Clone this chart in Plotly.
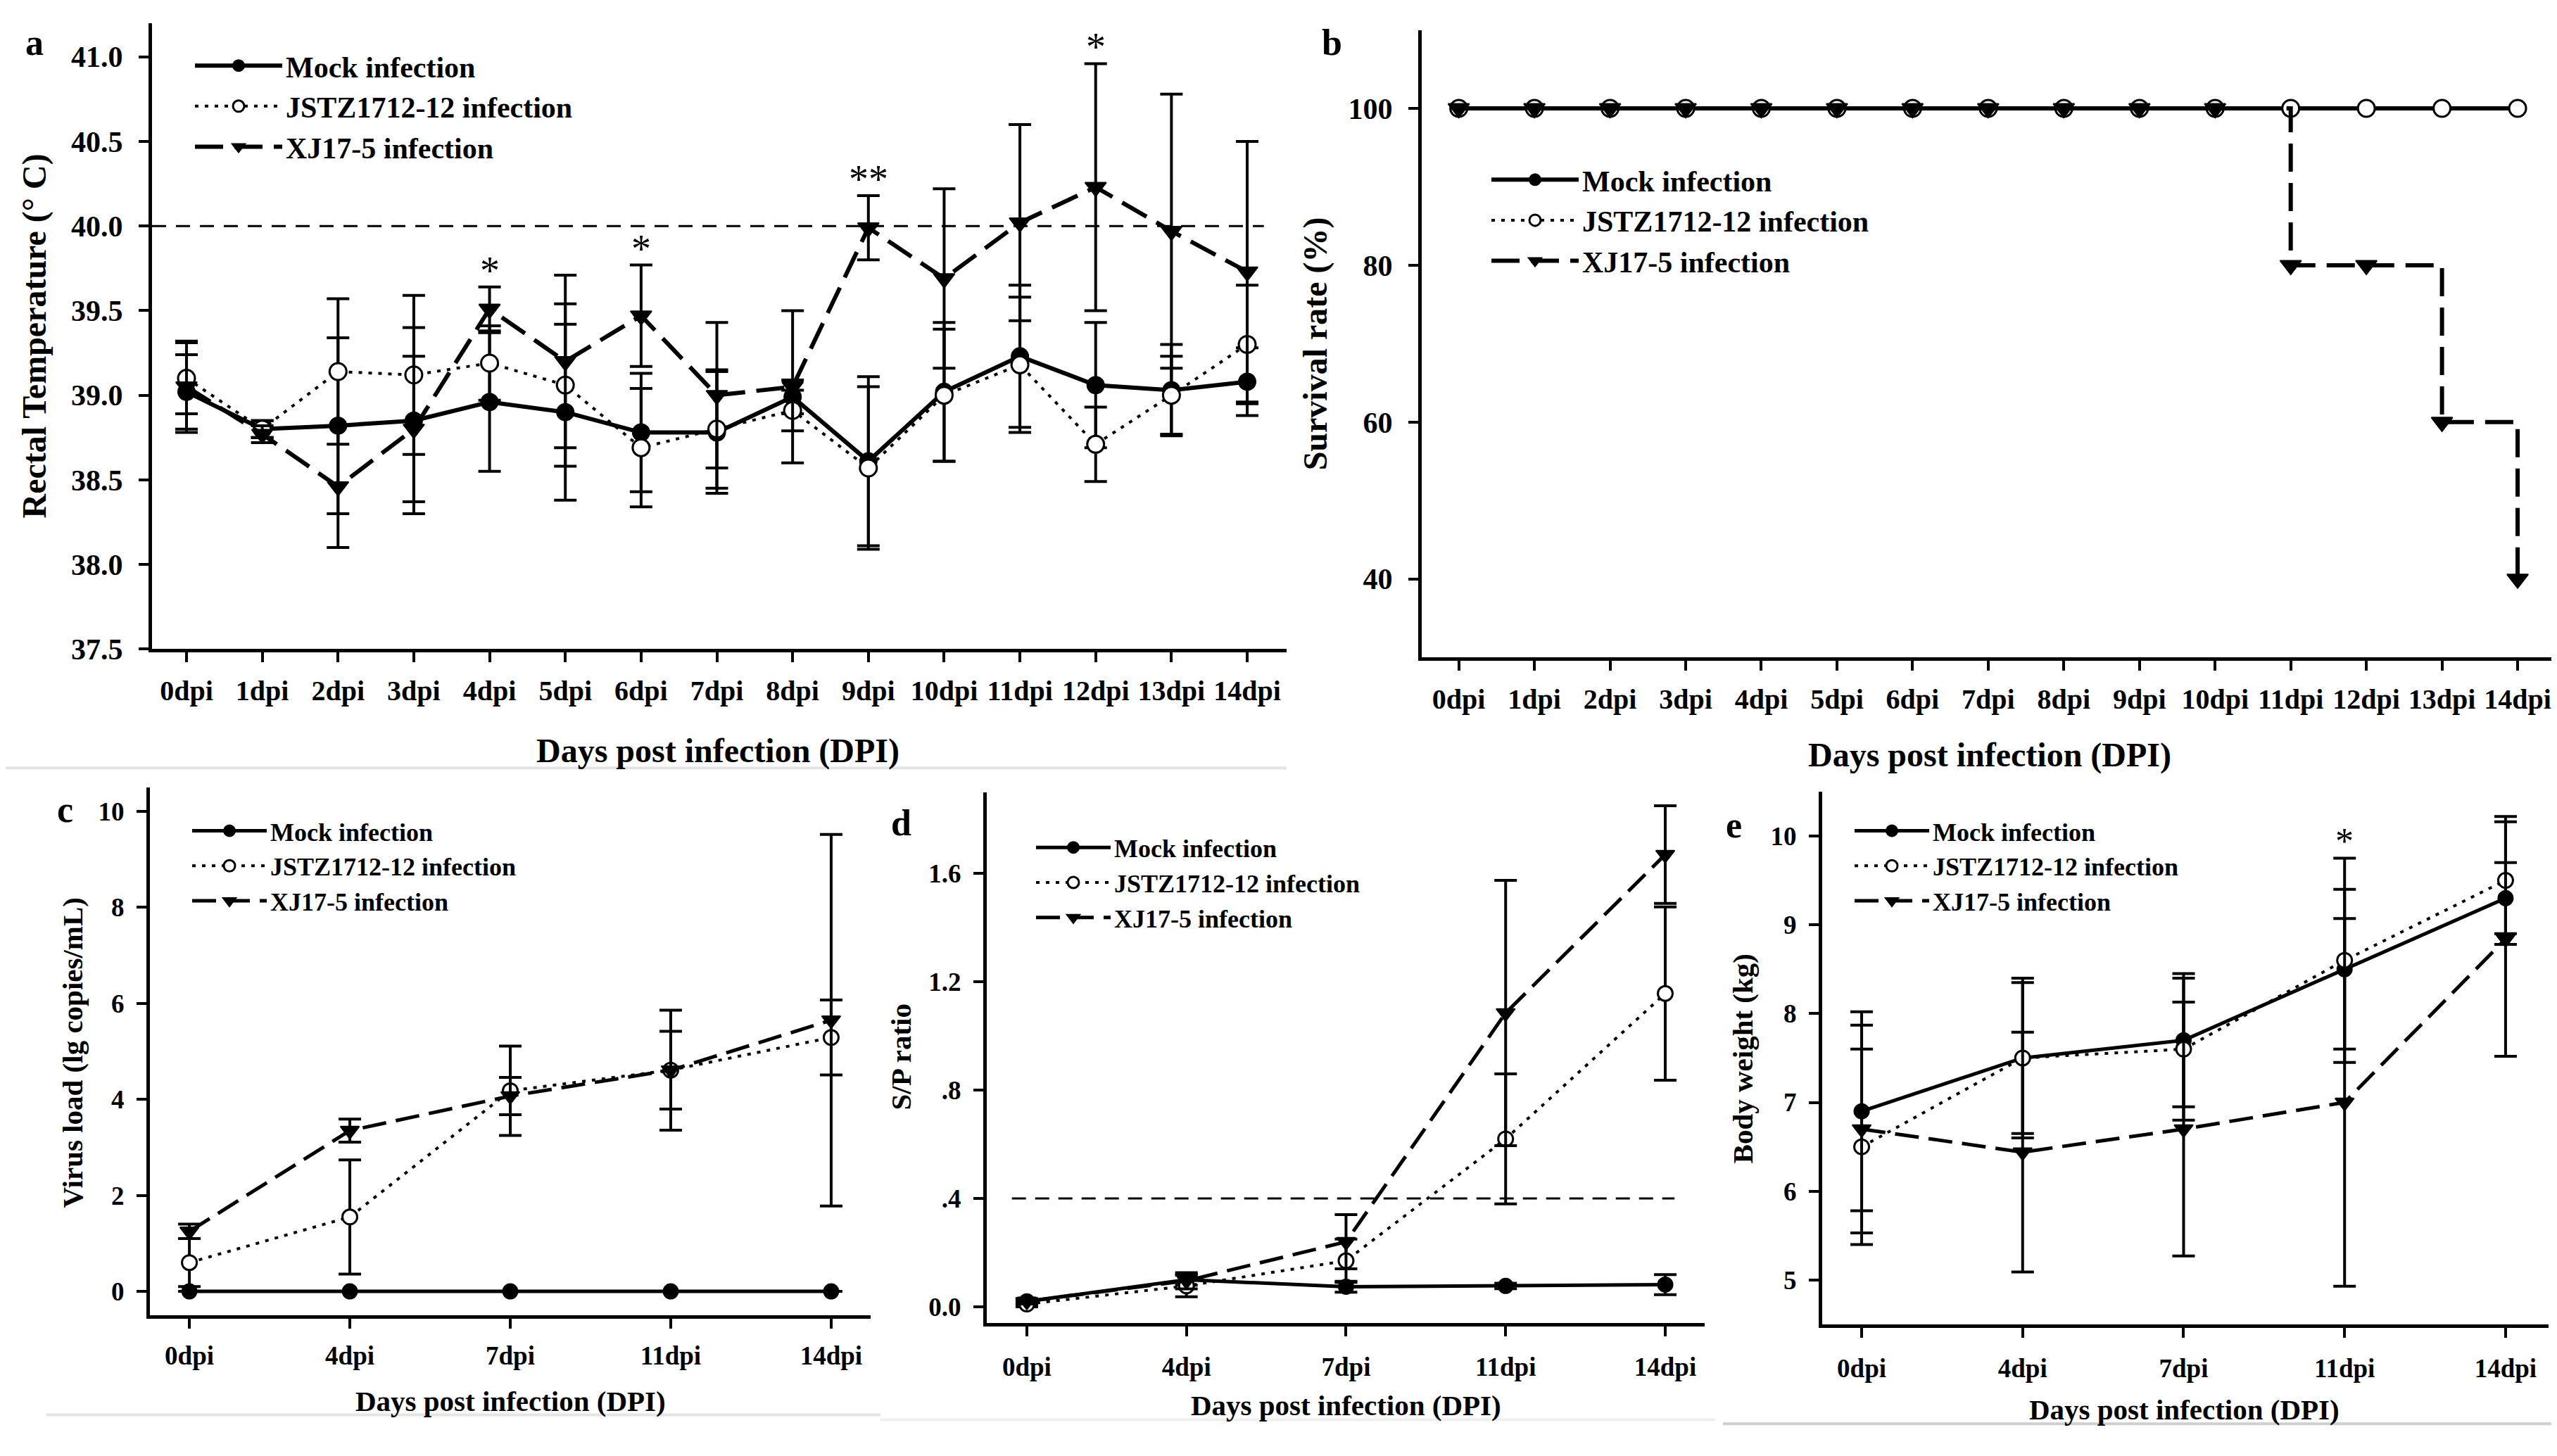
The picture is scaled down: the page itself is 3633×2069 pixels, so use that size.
import plotly.graph_objects as go

SERIF = "Liberation Serif"
W, H = 3633, 2069

# ---- data ----
groups = ["Mock infection", "JSTZ1712-12 infection", "XJ17-5 infection"]
dpi_full = ["0dpi", "1dpi", "2dpi", "3dpi", "4dpi", "5dpi", "6dpi", "7dpi",
            "8dpi", "9dpi", "10dpi", "11dpi", "12dpi", "13dpi", "14dpi"]
dpi_short = ["0dpi", "4dpi", "7dpi", "11dpi", "14dpi"]

# a: rectal temperature (deg C), mean and SD
temp_mock = [39.02, 38.80, 38.82, 38.85, 38.96, 38.90, 38.78, 38.78, 38.99, 38.61, 39.02, 39.23, 39.06, 39.03, 39.08]
temp_mock_sd = [0.22, 0.05, 0.52, 0.55, 0.41, 0.52, 0.35, 0.36, 0.10, 0.50, 0.41, 0.42, 0.37, 0.27, 0.20]
temp_jstz = [39.10, 38.80, 39.14, 39.12, 39.19, 39.06, 38.69, 38.80, 38.91, 38.57, 39.00, 39.18, 38.71, 39.00, 39.30]
temp_jstz_sd = [0.21, 0.05, 0.43, 0.47, 0.22, 0.48, 0.35, 0.35, 0.12, 0.48, 0.39, 0.40, 0.22, 0.23, 0.35]
temp_xj = [39.05, 38.77, 38.46, 38.80, 39.51, 39.20, 39.47, 39.00, 39.05, 39.99, 39.69, 40.02, 40.23, 39.97, 39.73]
temp_xj_sd = [0.27, 0.05, 0.36, 0.43, 0.13, 0.51, 0.30, 0.43, 0.45, 0.19, 0.53, 0.58, 0.73, 0.81, 0.77]
temp_threshold = 40.0
temp_sig_days = ["4dpi", "6dpi", "9dpi", "12dpi"]
temp_sig_marks = ["*", "*", "**", "*"]

# b: survival rate (%)
surv_mock = [100, 100, 100, 100, 100, 100, 100, 100, 100, 100, 100, 100, 100, 100, 100]
surv_jstz = [100, 100, 100, 100, 100, 100, 100, 100, 100, 100, 100, 100, 100, 100, 100]
surv_xj = [100, 100, 100, 100, 100, 100, 100, 100, 100, 100, 100, 80, 80, 60, 40]

# c: virus load (lg copies/mL)
vl_mock = [0, 0, 0, 0, 0]
vl_mock_sd = [0, 0, 0, 0, 0]
vl_jstz = [0.60, 1.55, 4.18, 4.61, 5.29]
vl_jstz_sd = [0.50, 1.19, 0.93, 1.25, 0.78]
vl_xj = [1.25, 3.35, 4.07, 4.61, 5.65]
vl_xj_sd = [0.15, 0.24, 0.39, 0.81, 3.87]

# d: S/P ratio
sp_mock = [0.02, 0.10, 0.074, 0.077, 0.082]
sp_mock_sd = [0.01, 0.02, 0.02, 0.01, 0.037]
sp_jstz = [0.01, 0.077, 0.17, 0.62, 1.157]
sp_jstz_sd = [0.01, 0.04, 0.08, 0.24, 0.32]
sp_xj = [0.02, 0.096, 0.24, 1.085, 1.67]
sp_xj_sd = [0.01, 0.03, 0.10, 0.49, 0.18]
sp_cutoff = 0.4

# e: body weight (kg)
bw_mock = [6.9, 7.5, 7.7, 8.5, 9.3]
bw_mock_sd = [1.12, 0.90, 0.75, 0.90, 0.40]
bw_jstz = [6.5, 7.5, 7.6, 8.6, 9.5]
bw_jstz_sd = [1.10, 0.85, 0.80, 1.15, 0.72]
bw_xj = [6.7, 6.44, 6.7, 7.0, 8.84]
bw_xj_sd = [1.17, 1.35, 1.43, 2.07, 1.32]
bw_sig_days = ["11dpi"]
bw_sig_marks = ["*"]


def line_style(group, big):
    if group == groups[0]:
        return dict(color="black", width=6 if big else 5, dash="solid")
    if group == groups[1]:
        return dict(color="black", width=4, dash="5px,9px")
    return dict(color="black", width=6 if big else 5, dash="40px,16px" if big else "34px,14px")


def marker_style(group, big):
    s = 24 if big else 21
    if group == groups[0]:
        return dict(symbol="circle", size=s, color="black", line=dict(color="black", width=2))
    if group == groups[1]:
        return dict(symbol="circle", size=s, color="white", line=dict(color="black", width=3))
    return dict(symbol="triangle-down", size=s + 2, color="black", line=dict(color="black", width=2))


def ax(n):
    return "" if n == 1 else str(n)


fig = go.Figure()


def add_panel(n, x, series, big, shape="linear"):
    for group, (y, sd) in zip(groups, series):
        fig.add_trace(go.Scatter(
            x=x, y=y, name=group, mode="lines+markers",
            xaxis="x" + ax(n), yaxis="y" + ax(n), legend="legend" + ax(n),
            line=dict(shape=shape, **line_style(group, big)),
            marker=marker_style(group, big),
            error_y=dict(type="data", array=sd, visible=sd is not None,
                         color="black", thickness=4, width=16),
        ))


add_panel(1, dpi_full, [(temp_mock, temp_mock_sd), (temp_jstz, temp_jstz_sd), (temp_xj, temp_xj_sd)], True)
add_panel(2, dpi_full, [(surv_mock, None), (surv_jstz, None), (surv_xj, None)], True, shape="hv")
add_panel(3, dpi_short, [(vl_mock, vl_mock_sd), (vl_jstz, vl_jstz_sd), (vl_xj, vl_xj_sd)], False)
add_panel(4, dpi_short, [(sp_mock, sp_mock_sd), (sp_jstz, sp_jstz_sd), (sp_xj, sp_xj_sd)], False)
add_panel(5, dpi_short, [(bw_mock, bw_mock_sd), (bw_jstz, bw_jstz_sd), (bw_xj, bw_xj_sd)], False)

# panel frames in pixel coordinates of the page: (left, right, top, bottom)
frames = {
    1: (208, 1820, 25, 925),
    2: (2012, 3626, 35, 937),
    3: (205, 1229, 1124, 1883),
    4: (1394, 2414, 1131, 1894),
    5: (2581, 3613, 1130, 1896),
}
xranges = {1: [-0.455, 14.52], 2: [-0.49, 14.53], 3: [-0.246, 4.246], 4: [-0.251, 4.247], 5: [-0.245, 4.267]}
yranges = {1: [37.5, 41.2], 2: [30, 110], 3: [-0.5, 10.5], 4: [-0.06, 1.9], 5: [4.5, 10.5]}
yticks = {
    1: dict(tickvals=[37.5, 38.0, 38.5, 39.0, 39.5, 40.0, 40.5, 41.0], tickformat=".1f"),
    2: dict(tickvals=[40, 60, 80, 100]),
    3: dict(tickvals=[0, 2, 4, 6, 8, 10]),
    4: dict(tickvals=[0, 0.4, 0.8, 1.2, 1.6], ticktext=["0.0", ".4", ".8", "1.2", "1.6"]),
    5: dict(tickvals=[5, 6, 7, 8, 9, 10]),
}
xstandoff = {1: 6, 2: 6, 3: 6, 4: 12, 5: 12}

layout = dict(
    width=W, height=H, margin=dict(l=0, r=0, t=0, b=0),
    paper_bgcolor="white", plot_bgcolor="white", showlegend=True,
    font=dict(family=SERIF, color="black"),
)
for n, (l, r, t, b) in frames.items():
    big = n <= 2
    common = dict(showline=True, linewidth=5, linecolor="black", showgrid=False, zeroline=False,
                  ticks="outside", ticklen=14, tickwidth=4, tickcolor="black")
    layout["xaxis" + ax(n)] = dict(
        common, domain=[l / W, r / W], anchor="y" + ax(n), range=xranges[n],
        type="category", ticklabelstandoff=xstandoff[n],
        tickfont=dict(family=SERIF, size=40 if big else 37, color="black", weight="bold"),
    )
    layout["yaxis" + ax(n)] = dict(
        common, domain=[1 - b / H, 1 - t / H], anchor="x" + ax(n), range=yranges[n],
        ticklabelstandoff=14 if big else 10,
        tickfont=dict(family=SERIF, size=42 if big else 37, color="black", weight="bold"),
        **yticks[n],
    )

# legend boxes: (left, top) in page pixels
legend_pos = {1: (264, 52), 2: (2106, 216), 3: (260, 1156), 4: (1459, 1180), 5: (2622, 1156)}
for n, (lx, ly) in legend_pos.items():
    big = n <= 2
    layout["legend" + ax(n)] = dict(
        x=lx / W, y=1 - ly / H, xanchor="left", yanchor="top",
        bgcolor="rgba(0,0,0,0)", borderwidth=0, itemwidth=124 if big else 106, tracegroupgap=0,
        font=dict(family=SERIF, size=42 if big else 36, color="black", weight="bold"),
    )

fig.update_layout(**layout)

# reference lines
fig.add_shape(type="line", xref="x domain", yref="y", x0=0, x1=0.98, y0=temp_threshold, y1=temp_threshold,
              line=dict(color="black", width=3, dash="20px,14px"))
fig.add_shape(type="line", xref="x4 domain", yref="y4", x0=0.035, x1=0.958, y0=sp_cutoff, y1=sp_cutoff,
              line=dict(color="black", width=3, dash="20px,13px"))

# significance marks above the highest error bar
top_a = {d: max(m + s for m, s in zip(col_m, col_s)) for d, col_m, col_s in zip(
    dpi_full, zip(temp_mock, temp_jstz, temp_xj), zip(temp_mock_sd, temp_jstz_sd, temp_xj_sd))}
for d, mark in zip(temp_sig_days, temp_sig_marks):
    fig.add_annotation(x=d, y=top_a[d], xref="x", yref="y", text=mark, showarrow=False,
                       yanchor="bottom", yshift=-10, font=dict(family=SERIF, size=56, color="black"))
top_e = {d: max(m + s for m, s in zip(col_m, col_s)) for d, col_m, col_s in zip(
    dpi_short, zip(bw_mock, bw_jstz, bw_xj), zip(bw_mock_sd, bw_jstz_sd, bw_xj_sd))}
for d, mark in zip(bw_sig_days, bw_sig_marks):
    fig.add_annotation(x=d, y=top_e[d], xref="x5", yref="y5", text=mark, showarrow=False,
                       yanchor="bottom", yshift=-6, font=dict(family=SERIF, size=52, color="black"))

# axis titles and panel letters
bold = dict(family=SERIF, color="black", weight="bold")
texts = [
    ("a", 41, 53, 0, 52), ("b", 1884, 53, 0, 52), ("c", 84, 1156, 0, 52), ("d", 1272, 1175, 0, 52),
    ("e", 2455, 1178, 0, 52),
    ("Days post infection (DPI)", 1012, 1071, 0, 48), ("Days post infection (DPI)", 2819, 1078, 0, 48),
    ("Days post infection (DPI)", 717, 2006, 0, 41), ("Days post infection (DPI)", 1905, 2012, 0, 41),
    ("Days post infection (DPI)", 3095, 2018, 0, 41),
    ("Rectal Temperature (° C)", 41, 475, -90, 48), ("Survival rate (%)", 1861, 486, -90, 48),
    ("Virus load (lg copies/mL)", 95, 1505, -90, 41), ("S/P ratio", 1272, 1512, -90, 41),
    ("Body weight (kg)", 2468, 1514, -90, 41),
]
for txt, px, py, ang, size in texts:
    fig.add_annotation(x=px / W, y=1 - py / H, xref="paper", yref="paper", text=txt, showarrow=False,
                       textangle=ang, xanchor="center", yanchor="middle", font=dict(bold, size=size))

# faint rules under the panels
for x0, x1, y, col in [(0, 1820, 1096, "#e4e4e4"), (58, 1243, 2026, "#e4e4e4"),
                       (1243, 2429, 2033, "#efefef"), (2440, 3633, 2039, "#cfcfcf")]:
    fig.add_shape(type="line", xref="paper", yref="paper", x0=x0 / W, x1=x1 / W, y0=1 - y / H, y1=1 - y / H,
                  line=dict(color=col, width=4))

fig.write_html("out.html")
